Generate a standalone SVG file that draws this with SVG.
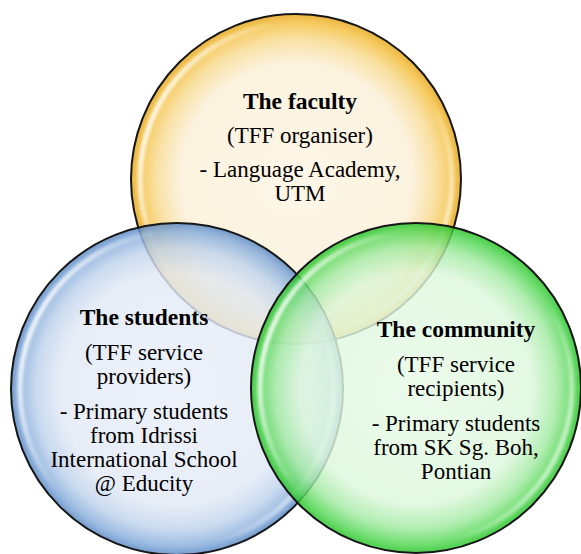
<svg xmlns="http://www.w3.org/2000/svg" width="581" height="554" viewBox="0 0 581 554">
  <defs>
    <radialGradient id="gYellow" cx="0.5" cy="0.5" r="0.5">
      <stop offset="0" stop-color="#FDF4E2"/>
      <stop offset="0.7" stop-color="#FBF0D8"/>
      <stop offset="0.85" stop-color="#F8DA8E"/>
      <stop offset="0.95" stop-color="#F3BE3A"/>
      <stop offset="1" stop-color="#E4A416"/>
    </radialGradient>
    <radialGradient id="gBlue" cx="0.5" cy="0.5" r="0.5">
      <stop offset="0" stop-color="#E8EEF8"/>
      <stop offset="0.7" stop-color="#E2E9F5"/>
      <stop offset="0.85" stop-color="#BED2EC"/>
      <stop offset="0.95" stop-color="#84ABDA"/>
      <stop offset="1" stop-color="#5686C4"/>
    </radialGradient>
    <radialGradient id="gGreen" cx="0.5" cy="0.5" r="0.5">
      <stop offset="0" stop-color="#E8FAE8"/>
      <stop offset="0.7" stop-color="#DDF7DD"/>
      <stop offset="0.85" stop-color="#A2EAA2"/>
      <stop offset="0.95" stop-color="#50D650"/>
      <stop offset="1" stop-color="#22C222"/>
    </radialGradient>
    <!-- glossy rim reflection: bright on the left, faint on the lower right -->
    <linearGradient id="gShine" x1="0" y1="0.3" x2="1" y2="0.7">
      <stop offset="0" stop-color="#FFFFFF" stop-opacity="0.95"/>
      <stop offset="0.28" stop-color="#FFFFFF" stop-opacity="0"/>
      <stop offset="0.78" stop-color="#FFFFFF" stop-opacity="0"/>
      <stop offset="1" stop-color="#FFFFFF" stop-opacity="0.7"/>
    </linearGradient>
    <filter id="soft" x="-10%" y="-10%" width="120%" height="120%">
      <feGaussianBlur stdDeviation="1.6"/>
    </filter>
  </defs>
  <style>
    .disc { opacity: 0.82; }
    .rim { fill: none; stroke: #161616; stroke-width: 2; }
    .shine { fill: none; stroke: url(#gShine); stroke-width: 5; filter: url(#soft); }
    text { font-family: "Liberation Serif", "Times New Roman", serif; font-size: 23px; fill: #000; text-anchor: middle; }
    .title { font-weight: bold; font-size: 23.5px; }
  </style>

  <rect width="581" height="554" fill="#FFFFFF"/>

  <!-- Faculty (top) -->
  <g id="faculty">
    <circle class="disc" cx="296" cy="179" r="165" fill="url(#gYellow)"/>
    <circle class="shine" cx="296" cy="179" r="156"/>
    <circle class="rim" cx="296" cy="179" r="165"/>
    <text class="title" x="300" y="109">The faculty</text>
    <text x="300" y="143">(TFF organiser)</text>
    <text x="300" y="177">- Language Academy,</text>
    <text x="300" y="201">UTM</text>
  </g>

  <!-- Students (bottom left) -->
  <g id="students">
    <circle class="disc" cx="177" cy="389" r="166" fill="url(#gBlue)"/>
    <circle class="shine" cx="177" cy="389" r="157"/>
    <circle class="rim" cx="177" cy="389" r="166"/>
    <text class="title" x="144" y="325">The students</text>
    <text x="144" y="360">(TFF service</text>
    <text x="144" y="384">providers)</text>
    <text x="144" y="419">- Primary students</text>
    <text x="144" y="443">from Idrissi</text>
    <text x="144" y="467">International School</text>
    <text x="144" y="491">@ Educity</text>
  </g>

  <!-- Community (bottom right) -->
  <g id="community">
    <circle class="disc" cx="416" cy="388" r="165" fill="url(#gGreen)"/>
    <circle class="shine" cx="416" cy="388" r="156"/>
    <circle class="rim" cx="416" cy="388" r="165"/>
    <text class="title" x="456" y="337">The community</text>
    <text x="456" y="372">(TFF service</text>
    <text x="456" y="396">recipients)</text>
    <text x="456" y="431">- Primary students</text>
    <text x="456" y="455">from SK Sg. Boh,</text>
    <text x="456" y="479">Pontian</text>
  </g>

  <g id="connectors"/>
</svg>
